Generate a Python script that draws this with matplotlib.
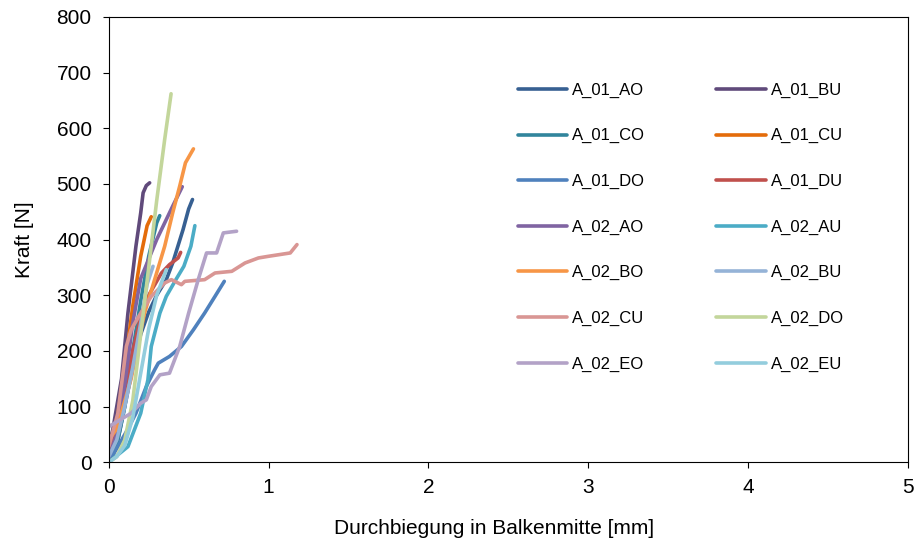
import matplotlib.pyplot as plt
import numpy as np

plt.rcParams['font.family'] = ['Liberation Sans', 'DejaVu Sans']

# deflection [mm] / force [N]
names = ['A_01_AO', 'A_01_BU', 'A_01_CO', 'A_01_CU', 'A_01_DO', 'A_01_DU', 'A_02_AO',
         'A_02_AU', 'A_02_BO', 'A_02_BU', 'A_02_CU', 'A_02_DO', 'A_02_EO', 'A_02_EU']
colors = ['#376092', '#604A7B', '#31859C', '#E46C0A', '#4F81BD', '#C0504D', '#8064A2',
          '#4BACC6', '#F79646', '#95B3D7', '#D99694', '#C3D69B', '#B3A2C7', '#93CDDD']

x_01_AO = [0, 0.05, 0.1, 0.15, 0.2, 0.25, 0.3, 0.36, 0.4, 0.465, 0.5, 0.524]
y_01_AO = [0, 30, 100, 170, 230, 270, 300, 328, 358, 418, 455, 472]
x_01_BU = [0, 0.025, 0.05, 0.08, 0.12, 0.17, 0.2, 0.215, 0.235, 0.256]
y_01_BU = [30, 58, 100, 150, 268, 388, 448, 484, 497, 502]
x_01_CO = [0, 0.05, 0.1, 0.15, 0.2, 0.25, 0.3, 0.319]
y_01_CO = [0, 30, 100, 200, 290, 370, 430, 443]
x_01_CU = [0, 0.05, 0.1, 0.15, 0.2, 0.24, 0.266]
y_01_CU = [20, 70, 170, 280, 370, 425, 441]
x_01_DO = [0, 0.057, 0.12, 0.17, 0.235, 0.266, 0.287, 0.31, 0.38, 0.455, 0.53, 0.6, 0.665, 0.723]
y_01_DO = [0, 28, 60, 88, 136, 154, 166, 178, 190, 208, 238, 268, 298, 325]
x_01_DU = [0, 0.05, 0.1, 0.15, 0.2, 0.25, 0.3, 0.33, 0.38, 0.434, 0.45]
y_01_DU = [20, 60, 130, 200, 260, 300, 325, 340, 355, 367, 377]
x_02_AO = [0, 0.05, 0.1, 0.15, 0.2, 0.3, 0.4, 0.46]
y_02_AO = [10, 50, 140, 250, 330, 400, 460, 495]
x_02_AU = [0, 0.12, 0.2, 0.245, 0.266, 0.32, 0.36, 0.42, 0.47, 0.514, 0.539]
y_02_AU = [0, 28, 88, 148, 208, 268, 298, 328, 352, 388, 425]
x_02_BO = [0, 0.05, 0.1, 0.14, 0.18, 0.224, 0.287, 0.35, 0.4, 0.444, 0.48, 0.53]
y_02_BO = [40, 60, 110, 150, 208, 268, 328, 388, 448, 496, 538, 563]
x_02_BU = [0, 0.05, 0.1, 0.15, 0.2, 0.24, 0.277]
y_02_BU = [10, 40, 100, 170, 250, 320, 352]
x_02_CU = [0, 0.057, 0.11, 0.14, 0.2, 0.266, 0.35, 0.392, 0.455, 0.476, 0.6, 0.665,
           0.77, 0.853, 0.937, 1.0, 1.136, 1.178]
y_02_CU = [28, 88, 208, 238, 268, 298, 322, 328, 319, 325, 328, 340, 343, 358, 367, 370, 376, 391]
x_02_DO = [0, 0.05, 0.1, 0.15, 0.2, 0.25, 0.3, 0.35, 0.39]
y_02_DO = [0, 10, 40, 110, 230, 350, 470, 580, 662]
x_02_EO = [0, 0.14, 0.2, 0.235, 0.266, 0.32, 0.38, 0.444, 0.5, 0.56, 0.612, 0.675, 0.717, 0.8]
y_02_EO = [64, 88, 106, 112, 136, 157, 160, 208, 268, 328, 376, 376, 412, 415]
x_02_EU = [0, 0.05, 0.1, 0.15, 0.2, 0.25, 0.3, 0.36]
y_02_EU = [0, 10, 30, 80, 160, 240, 300, 346]

xs = [x_01_AO, x_01_BU, x_01_CO, x_01_CU, x_01_DO, x_01_DU, x_02_AO,
      x_02_AU, x_02_BO, x_02_BU, x_02_CU, x_02_DO, x_02_EO, x_02_EU]
ys = [y_01_AO, y_01_BU, y_01_CO, y_01_CU, y_01_DO, y_01_DU, y_02_AO,
      y_02_AU, y_02_BO, y_02_BU, y_02_CU, y_02_DO, y_02_EO, y_02_EU]

fig = plt.figure(figsize=(9.14, 5.47), dpi=100)
ax = fig.add_axes([0.119, 0.155, 0.874, 0.814])

for name, col, x, y in zip(names, colors, xs, ys):
    ax.plot(x, y, color=col, linewidth=2.6, label=name, solid_capstyle='round')

ax.set_xlim(0, 5)
ax.set_ylim(0, 800)
ax.set_xticks(range(0, 6))
ax.set_yticks(range(0, 801, 100))
ax.tick_params(labelsize=15, direction='out', length=4.3)
ax.tick_params(axis='y', pad=8)
ax.tick_params(axis='x', pad=7)
ax.set_xlabel('Durchbiegung in Balkenmitte [mm]', fontsize=15)
ax.set_ylabel('Kraft [N]', fontsize=15)
ax.xaxis.set_label_coords(0.482, -0.127)
ax.yaxis.set_label_coords(-0.094, 0.5)

# legend: 2 columns, row-wise order
order = [0, 2, 4, 6, 8, 10, 12, 1, 3, 5, 7, 9, 11, 13]
h, l = ax.get_legend_handles_labels()
ax.legend([h[i] for i in order], [l[i] for i in order], ncol=2, frameon=False,
          fontsize=12, handlelength=2.95, labelspacing=1.83, columnspacing=4.3,
          handletextpad=0.3, loc='upper left', bbox_to_anchor=(0.493, 0.886))

plt.savefig('out.png', dpi=100)
